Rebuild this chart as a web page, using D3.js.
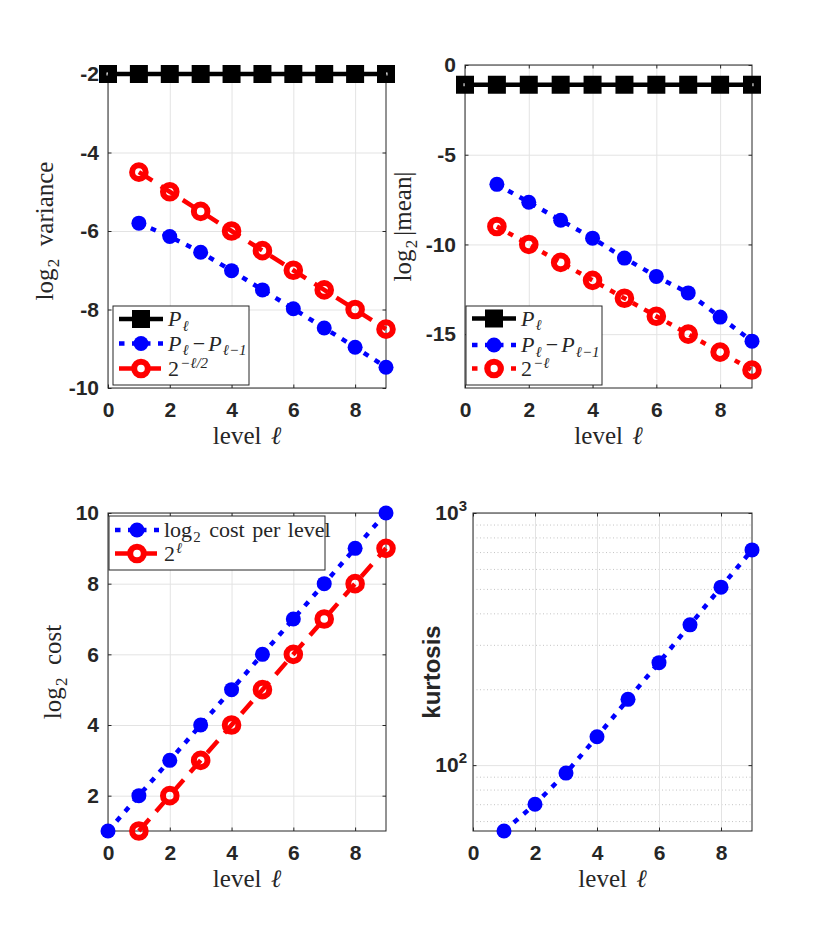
<!DOCTYPE html>
<html>
<head>
<meta charset="utf-8">
<script src="https://cdn.jsdelivr.net/npm/d3@7"></script>
<style>
body{margin:0;background:#fff;}
.tick text{font-family:"Liberation Sans",Arial,sans-serif;font-weight:bold;font-size:21px;fill:#262626;}
.serif{font-family:"Liberation Serif","DejaVu Serif",serif;fill:#262626;}
</style>
</head>
<body>
<svg id="fig" width="830" height="934"></svg>
<script>
//data------------------------------------------------
var levels=[0,1,2,3,4,5,6,7,8,9];
var levelsFine=[1,2,3,4,5,6,7,8,9];
var xTicks=[0,2,4,6,8];

//top left: log2 variance
var varP=[-2,-2,-2,-2,-2,-2,-2,-2,-2,-2];
var varDP=[-5.8,-6.14,-6.54,-7.01,-7.5,-7.98,-8.47,-8.96,-9.47];
var varRef=[-4.5,-5,-5.5,-6,-6.5,-7,-7.5,-8,-8.5];
var varTicks=[-10,-8,-6,-4,-2];

//top right: log2 |mean|
var meanP=[-1.1,-1.1,-1.1,-1.1,-1.1,-1.1,-1.1,-1.1,-1.1,-1.1];
var meanDP=[-6.65,-7.65,-8.65,-9.65,-10.76,-11.78,-12.7,-14.05,-15.39];
var meanRef=[-9,-10,-11,-12,-13,-14,-15,-16,-17];
var meanTicks=[-15,-10,-5,0];

//bottom left: log2 cost
var costLevel=[1,2,3,4,5,6,7,8,9,10];
var costRef=[1,2,3,4,5,6,7,8,9];
var costTicks=[2,4,6,8,10];

//bottom right: kurtosis (log axis)
var kurt=[54.8,70,93,129.6,182.4,255,360,508,714];
var kurtTicks=[100,1000];
var kurtMinor=[60,70,80,90,200,300,400,500,600,700,800,900];

var svg=d3.select('#fig');
var ink='#262626';

//math-ish text: parts are {t, i(talic), s:'sub'|'sup', gap}
function mathText(sel,parts,size){
  var shift=0, prevScript=false;
  parts.forEach(function(p){
    var target=p.s=='sub'?0.22*size:p.s=='sup'?-0.36*size:0;
    var gap=p.gap!=null?p.gap:(p.s||prevScript)?size*0.05:0;
    sel.append('tspan').text(p.t)
      .attr('dx',gap)
      .attr('dy',target-shift)
      .attr('font-size',p.s?size*0.68:size)
      .attr('font-style',p.i?'italic':'normal');
    shift=target;
    prevScript=!!p.s;
  });
}

function drawMarker(g,type,cx,cy,color){
  if(type=='square'){
    g.append('rect').attr('x',cx-5.25).attr('y',cy-5.25).attr('width',10.5).attr('height',10.5)
      .attr('fill','none').attr('stroke',color).attr('stroke-width',7.5);
  }else if(type=='dot'){
    g.append('circle').attr('cx',cx).attr('cy',cy).attr('r',7.5).attr('fill',color);
  }else{
    g.append('circle').attr('cx',cx).attr('cy',cy).attr('r',6.8)
      .attr('fill','none').attr('stroke',color).attr('stroke-width',6);
  }
}

var dashes={solid:null,dot:'5.5,7.5',dash:'16,10'};

function panel(cfg){
  var g=svg.append('g');
  var x=d3.scaleLinear().domain([0,9]).range([cfg.l,cfg.r]);
  var y=(cfg.log?d3.scaleLog():d3.scaleLinear()).domain(cfg.ydom).range([cfg.b,cfg.t]);
  var w=cfg.r-cfg.l, h=cfg.b-cfg.t;

  //grid
  if(cfg.minor){
    g.append('g').attr('transform','translate('+cfg.l+',0)')
      .call(d3.axisLeft(y).tickValues(cfg.minor).tickSize(-w).tickFormat(''))
      .call(function(s){s.select('.domain').remove();
        s.selectAll('line').attr('stroke','#c4c4c4').attr('stroke-dasharray','1,2.5');});
  }
  g.append('g').attr('transform','translate(0,'+cfg.b+')')
    .call(d3.axisBottom(x).tickValues(xTicks).tickSize(-h).tickFormat(''))
    .call(function(s){s.select('.domain').remove();s.selectAll('line').attr('stroke','#e3e3e3');});
  g.append('g').attr('transform','translate('+cfg.l+',0)')
    .call(d3.axisLeft(y).tickValues(cfg.yticks).tickSize(-w).tickFormat(''))
    .call(function(s){s.select('.domain').remove();s.selectAll('line').attr('stroke','#e3e3e3');});

  //box
  g.append('rect').attr('x',cfg.l).attr('y',cfg.t).attr('width',w).attr('height',h)
    .attr('fill','none').attr('stroke',ink).attr('stroke-width',1);

  //ticks, inward on all sides
  g.append('g').attr('transform','translate(0,'+cfg.b+')')
    .call(d3.axisBottom(x).tickValues(xTicks).tickSize(-3.5).tickPadding(14).tickFormat(d3.format('d')))
    .call(function(s){s.select('.domain').remove();s.selectAll('line').attr('stroke',ink);});
  g.append('g').attr('transform','translate(0,'+cfg.t+')')
    .call(d3.axisTop(x).tickValues(xTicks).tickSize(-3.5).tickFormat(''))
    .call(function(s){s.select('.domain').remove();s.selectAll('line').attr('stroke',ink);});
  g.append('g').attr('transform','translate('+cfg.l+',0)')
    .call(d3.axisLeft(y).tickValues(cfg.yticks).tickSize(-3.5).tickPadding(9)
      .tickFormat(cfg.log?function(){return '';}:function(d){return String(d).replace('\u2212','-');}))
    .call(function(s){s.select('.domain').remove();s.selectAll('line').attr('stroke',ink);});
  g.append('g').attr('transform','translate('+cfg.r+',0)')
    .call(d3.axisRight(y).tickValues(cfg.yticks).tickSize(-3.5).tickFormat(''))
    .call(function(s){s.select('.domain').remove();s.selectAll('line').attr('stroke',ink);});
  if(cfg.log){
    cfg.yticks.forEach(function(d){
      var t=g.append('text').attr('x',cfg.l-6).attr('y',y(d)).attr('dy','0.35em')
        .attr('text-anchor','end')
        .style('font-family','"Liberation Sans",Arial,sans-serif').style('font-weight','bold')
        .style('font-size','21px').style('fill',ink);
      t.append('tspan').text('10');
      t.append('tspan').text(Math.round(Math.log10(d))).attr('font-size',15).attr('dy',-9);
    });
  }

  //series: line first, markers on top
  cfg.series.forEach(function(sr){
    var pts=sr.xs.map(function(v,i){return [x(v),y(sr.ys[i])];});
    g.append('path').attr('d',d3.line()(pts)).attr('fill','none')
      .attr('stroke',sr.color).attr('stroke-width',4.5)
      .attr('stroke-dasharray',dashes[sr.dash]);
    pts.forEach(function(p){drawMarker(g,sr.marker,p[0],p[1],sr.color);});
  });

  //axis labels
  var xl=g.append('text').attr('class','serif').attr('x',(cfg.l+cfg.r)/2).attr('y',cfg.b+56)
    .attr('text-anchor','middle').style('word-spacing','3px');
  mathText(xl,[{t:'level '},{t:'\u2113',i:true}],25);
  var ylab=g.append('text').attr('class','serif')
    .attr('transform','translate('+cfg.ylx+','+(cfg.t+cfg.b)/2+') rotate(-90)')
    .attr('text-anchor','middle').style('word-spacing','5px');
  if(cfg.ylabelSans){
    ylab.attr('class',null).style('font-family','"Liberation Sans",Arial,sans-serif')
      .style('font-weight','bold').style('font-size','24px').style('fill',ink).text(cfg.ylabel[0].t);
  }else{
    mathText(ylab,cfg.ylabel,25);
  }

  //legend
  if(cfg.legend){
    var L=cfg.legend;
    var lg=g.append('g');
    lg.append('rect').attr('x',L.x).attr('y',L.y).attr('width',L.w).attr('height',L.h)
      .attr('fill','#fff').attr('stroke',ink).attr('stroke-width',1);
    cfg.series.forEach(function(sr,i){
      var cy=L.rows[i];
      lg.append('path').attr('d',d3.line()([[L.x+6,cy],[L.x+50,cy]])).attr('fill','none')
        .attr('stroke',sr.color).attr('stroke-width',4.5).attr('stroke-dasharray',dashes[sr.dash]);
      drawMarker(lg,sr.marker,L.x+28,cy,sr.color);
      var t=lg.append('text').attr('class','serif').attr('x',L.x+55).attr('y',cy+7)
        .style('word-spacing','2px');
      mathText(t,sr.label,22);
    });
  }
}

var labP=[{t:'P',i:true},{t:'\u2113',i:true,s:'sub'}];
var labDP=[{t:'P',i:true},{t:'\u2113',i:true,s:'sub'},{t:'\u2212',gap:4},{t:'P',i:true,gap:3},{t:'\u2113\u22121',i:true,s:'sub'}];

panel({l:108,r:386,t:74,b:388,ydom:[-10,-2],yticks:varTicks,ylx:53,
  ylabel:[{t:'log'},{t:'2',s:'sub'},{t:' variance'}],
  series:[
    {xs:levels,ys:varP,color:'#000',dash:'solid',marker:'square',label:labP},
    {xs:levelsFine,ys:varDP,color:'#0000ff',dash:'dot',marker:'dot',label:labDP},
    {xs:levelsFine,ys:varRef,color:'#ff0000',dash:'dash',marker:'circle',
      label:[{t:'2'},{t:'\u2212\u2113/2',i:true,s:'sup'}]}
  ],
  legend:{x:113,y:306,w:136,h:79,rows:[319,343.5,368.5]}
});

panel({l:465,r:752,t:65,b:388,ydom:[-18,0],yticks:meanTicks,ylx:411,
  ylabel:[{t:'log'},{t:'2',s:'sub'},{t:'|mean|',gap:4}],
  series:[
    {xs:levels,ys:meanP,color:'#000',dash:'solid',marker:'square',label:labP},
    {xs:levelsFine,ys:meanDP,color:'#0000ff',dash:'dot',marker:'dot',label:labDP},
    {xs:levelsFine,ys:meanRef,color:'#ff0000',dash:'dot',marker:'circle',
      label:[{t:'2'},{t:'\u2212\u2113',i:true,s:'sup'}]}
  ],
  legend:{x:466,y:306,w:136,h:79,rows:[318.5,345,368.5]}
});

panel({l:108,r:386,t:513,b:831,ydom:[1,10],yticks:costTicks,ylx:61,
  ylabel:[{t:'log'},{t:'2',s:'sub'},{t:' cost'}],
  series:[
    {xs:levels,ys:costLevel,color:'#0000ff',dash:'dot',marker:'dot',
      label:[{t:'log'},{t:'2',s:'sub'},{t:' cost per level'}]},
    {xs:levelsFine,ys:costRef,color:'#ff0000',dash:'dash',marker:'circle',
      label:[{t:'2'},{t:'\u2113',i:true,s:'sup'}]}
  ],
  legend:{x:109,y:516,w:216,h:54,rows:[530,553.5]}
});

panel({l:473,r:752,t:513,b:831,log:true,ydom:[54.8,1000],yticks:kurtTicks,minor:kurtMinor,ylx:440,
  ylabelSans:true,ylabel:[{t:'kurtosis'}],
  series:[
    {xs:levelsFine,ys:kurt,color:'#0000ff',dash:'dot',marker:'dot'}
  ]
});
</script>
</body>
</html>
